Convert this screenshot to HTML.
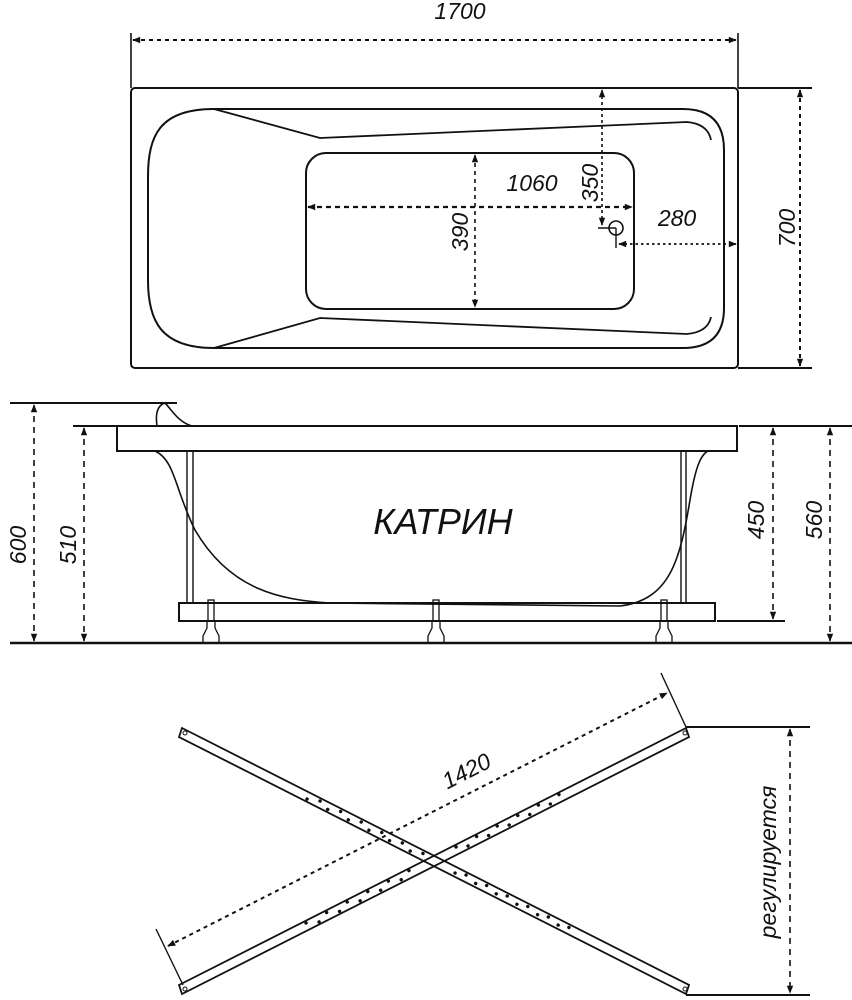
<!DOCTYPE html>
<html><head><meta charset="utf-8"><style>
html,body{margin:0;padding:0;background:#fff;}
svg{display:block;}
text{font-family:"Liberation Sans","DejaVu Sans",sans-serif;font-style:italic;fill:#111;}
</style></head><body>
<svg width="852" height="1000" viewBox="0 0 852 1000" xmlns="http://www.w3.org/2000/svg">
<defs>
<marker id="ar" viewBox="0 0 10 10" refX="9" refY="5" markerUnits="userSpaceOnUse" markerWidth="9" markerHeight="8" orient="auto-start-reverse"><path d="M0,1 L10,5 L0,9 Z" fill="#111"/></marker>
</defs>
<g fill="none" stroke="#111" stroke-width="2">
<!-- top view -->
<line x1="131" y1="33" x2="131" y2="88" stroke-width="1.6"/>
<line x1="738" y1="33" x2="738" y2="88" stroke-width="1.6"/>
<line x1="133" y1="40" x2="736" y2="40" stroke-dasharray="4 4" marker-start="url(#ar)" marker-end="url(#ar)"/>
<rect x="131" y="88" width="607" height="280" rx="4"/>
<line x1="738" y1="88" x2="812" y2="88"/>
<line x1="738" y1="368" x2="812" y2="368"/>
<line x1="800" y1="90" x2="800" y2="366" stroke-dasharray="4 4" marker-start="url(#ar)" marker-end="url(#ar)"/>
<path d="M214,109 L683,109 Q724,109 724,150 L724,308 Q724,348 683,348 L214,348 C160,348 148,320 148,280 L148,177 C148,135 160,109 214,109 Z"/>
<path d="M214,109 L320,138 L687,122 Q708,124 711,140" stroke-width="1.8"/>
<path d="M214,348 L320,318 L687,334 Q708,332 711,317" stroke-width="1.8"/>
<rect x="306" y="153" width="328" height="156" rx="20"/>
<line x1="308" y1="207" x2="632" y2="207" stroke-dasharray="5 4" stroke-width="2.2" marker-start="url(#ar)" marker-end="url(#ar)"/>
<line x1="475" y1="155" x2="475" y2="307" stroke-dasharray="4 4" stroke-width="1.6" marker-start="url(#ar)" marker-end="url(#ar)"/>
<line x1="602" y1="90" x2="602" y2="225" stroke-dasharray="3 3" stroke-width="1.6" marker-start="url(#ar)" marker-end="url(#ar)"/>
<circle cx="616" cy="228" r="7" stroke-width="1.6"/>
<line x1="598" y1="228" x2="616" y2="228" stroke-width="1.4"/>
<line x1="616" y1="228" x2="616" y2="248" stroke-width="1.4"/>
<line x1="619" y1="244" x2="736" y2="244" stroke-dasharray="2.5 3" stroke-width="1.8" marker-start="url(#ar)" marker-end="url(#ar)"/>
<!-- side view -->
<line x1="10" y1="403" x2="177" y2="403"/>
<line x1="73" y1="426" x2="117" y2="426"/>
<line x1="739" y1="426" x2="852" y2="426"/>
<line x1="717" y1="621" x2="785" y2="621"/>
<line x1="10" y1="643" x2="852" y2="643" stroke-width="2.4"/>
<path d="M157,426 C155,412 158,405 165,403 C172,410 178,422 192,426" stroke-width="1.6"/>
<rect x="117" y="426" width="620" height="25"/>
<path d="M155,451 C175,460 175,490 195,530 C230,590 280,600 330,603 L620,606 C670,600 680,560 690,500 C695,470 700,455 708,451" stroke-width="1.6"/>
<line x1="187" y1="451" x2="187" y2="603" stroke-width="1.4"/>
<line x1="193" y1="451" x2="193" y2="603" stroke-width="1.4"/>
<line x1="681" y1="451" x2="681" y2="603" stroke-width="1.4"/>
<line x1="686" y1="451" x2="686" y2="603" stroke-width="1.4"/>
<rect x="179" y="603" width="536" height="18"/>
<g stroke-width="1.3">
<rect x="208" y="600" width="6" height="21"/><path d="M207,621 L215,621 L215,628 L219,636 L219,643 L203,643 L203,636 L207,628 Z"/>
<rect x="433" y="600" width="6" height="21"/><path d="M432,621 L440,621 L440,628 L444,636 L444,643 L428,643 L428,636 L432,628 Z"/>
<rect x="661" y="600" width="6" height="21"/><path d="M660,621 L668,621 L668,628 L672,636 L672,643 L656,643 L656,636 L660,628 Z"/>
</g>
<line x1="34" y1="405" x2="34" y2="641" stroke-dasharray="6 5" stroke-width="1.6" marker-start="url(#ar)" marker-end="url(#ar)"/>
<line x1="84" y1="428" x2="84" y2="641" stroke-dasharray="6 5" stroke-width="1.6" marker-start="url(#ar)" marker-end="url(#ar)"/>
<line x1="773" y1="428" x2="773" y2="619" stroke-dasharray="6 5" stroke-width="1.6" marker-start="url(#ar)" marker-end="url(#ar)"/>
<line x1="830" y1="428" x2="830" y2="641" stroke-dasharray="6 5" stroke-width="1.6" marker-start="url(#ar)" marker-end="url(#ar)"/>
<!-- X frame -->
<polygon points="182,728 689,985 686,994 179,737" stroke-width="1.8"/>
<polygon points="179,985 686,728 689,737 182,994" stroke-width="1.8"/>
<circle cx="185" cy="733" r="2" stroke-width="1"/>
<circle cx="685" cy="989" r="2" stroke-width="1"/>
<circle cx="185" cy="989" r="2" stroke-width="1"/>
<circle cx="685" cy="733" r="2" stroke-width="1"/>
<g stroke-width="3.4" stroke-linecap="round" stroke-dasharray="0.1 23">
<line x1="307" y1="799" x2="420" y2="856"/>
<line x1="320" y1="801" x2="428" y2="856"/>
<line x1="455" y1="873" x2="560" y2="926"/>
<line x1="466" y1="875" x2="570" y2="928"/>
<line x1="306" y1="923" x2="412" y2="869"/>
<line x1="319" y1="922" x2="420" y2="870"/>
<line x1="456" y1="847" x2="560" y2="794"/>
<line x1="468" y1="846" x2="570" y2="794"/>
</g>
<line x1="156" y1="929" x2="183" y2="985" stroke-width="1.4"/>
<line x1="661" y1="673" x2="686" y2="727" stroke-width="1.4"/>
<line x1="168" y1="946" x2="667" y2="693" stroke-dasharray="4 4" stroke-width="2" marker-start="url(#ar)" marker-end="url(#ar)"/>
<line x1="686" y1="727" x2="810" y2="727"/>
<line x1="686" y1="995" x2="810" y2="995"/>
<line x1="790" y1="729" x2="790" y2="993" stroke-dasharray="6 5" stroke-width="1.6" marker-start="url(#ar)" marker-end="url(#ar)"/>
</g>
<g font-size="23">
<text x="460" y="19" text-anchor="middle">1700</text>
<text transform="translate(795,228) rotate(-90)" text-anchor="middle">700</text>
<text x="532" y="191" text-anchor="middle">1060</text>
<text transform="translate(468,232) rotate(-90)" text-anchor="middle">390</text>
<text transform="translate(598,183) rotate(-90)" text-anchor="middle">350</text>
<text x="677" y="226" text-anchor="middle">280</text>
<text transform="translate(26,545) rotate(-90)" text-anchor="middle">600</text>
<text transform="translate(76,545) rotate(-90)" text-anchor="middle">510</text>
<text transform="translate(764,520) rotate(-90)" text-anchor="middle">450</text>
<text transform="translate(822,520) rotate(-90)" text-anchor="middle">560</text>
<text transform="translate(470,778) rotate(-27)" text-anchor="middle">1420</text>
<text transform="translate(776,862) rotate(-90)" text-anchor="middle">регулируется</text>
</g>
<text x="443" y="534" text-anchor="middle" font-size="36">КАТРИН</text>
</svg>
</body></html>
